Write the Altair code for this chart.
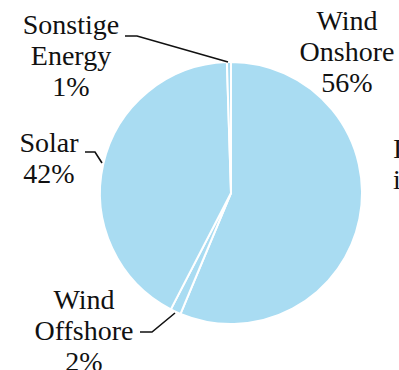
import altair as alt
import pandas as pd

# --- data -------------------------------------------------------------
categories = ["Wind Onshore", "Wind Offshore", "Solar", "Sonstige Energy"]
shares = [56.3, 1.3, 41.9, 0.5]          # share of the pie
label_texts = ["Wind\nOnshore\n56%", "Wind\nOffshore\n2%", "Solar\n42%", "Sonstige\nEnergy\n1%"]

# --- layout (annotation placement, pixels; y = first line) ------------
label_x = [347, 84, 49, 71]
label_y = [22, 301, 144, 26]
leader_pts = {
    "Wind Offshore": [(140, 332), (152, 332), (175, 313)],
    "Solar": [(85, 152), (95, 152), (102, 163)],
    "Sonstige Energy": [(125, 36), (137, 36), (228, 62)],
}
side_text = "Insgesamt\nin %"

FONT = "Liberation Serif"
BLUE = "#a9dcf2"

pie_df = pd.DataFrame({"cat": categories, "value": shares, "idx": range(len(categories))})
lab_df = pd.DataFrame({"txt": label_texts, "x": label_x, "y": label_y})
rows = []
for g, pts in leader_pts.items():
    for i, (px, py) in enumerate(pts):
        rows.append({"grp": g, "seq": i, "x": px, "y": py})
lead_df = pd.DataFrame(rows)
side_df = pd.DataFrame({"txt": [side_text], "x": [393], "y": [150]})

pie = alt.Chart(pie_df).mark_arc(outerRadius=131, stroke="white", strokeWidth=2).encode(
    theta=alt.Theta("value:Q", stack=True),
    order=alt.Order("idx:Q"),
    color=alt.value(BLUE),
    x=alt.value(231),
    y=alt.value(193),
)

leaders = alt.Chart(lead_df).mark_line(color="#111111", strokeWidth=1.6).encode(
    x=alt.X("x:Q", scale=None, axis=None),
    y=alt.Y("y:Q", scale=None, axis=None),
    detail="grp:N",
    order="seq:Q",
)

labels = alt.Chart(lab_df).mark_text(
    font=FONT, fontSize=28, lineHeight=31, align="center", baseline="middle",
    color="#111111", lineBreak="\n",
).encode(
    x=alt.X("x:Q", scale=None, axis=None),
    y=alt.Y("y:Q", scale=None, axis=None),
    text="txt:N",
)

side = alt.Chart(side_df).mark_text(
    font=FONT, fontSize=28, lineHeight=31, align="left", baseline="middle",
    color="#111111", lineBreak="\n",
).encode(
    x=alt.X("x:Q", scale=None, axis=None),
    y=alt.Y("y:Q", scale=None, axis=None),
    text="txt:N",
)

chart = alt.layer(pie, leaders, labels, side).properties(
    width=399, height=370, autosize=alt.AutoSizeParams(type="none"), padding=0,
).configure_view(stroke=None)

chart.save("out.html", embed_options={"renderer": "svg", "actions": False})
